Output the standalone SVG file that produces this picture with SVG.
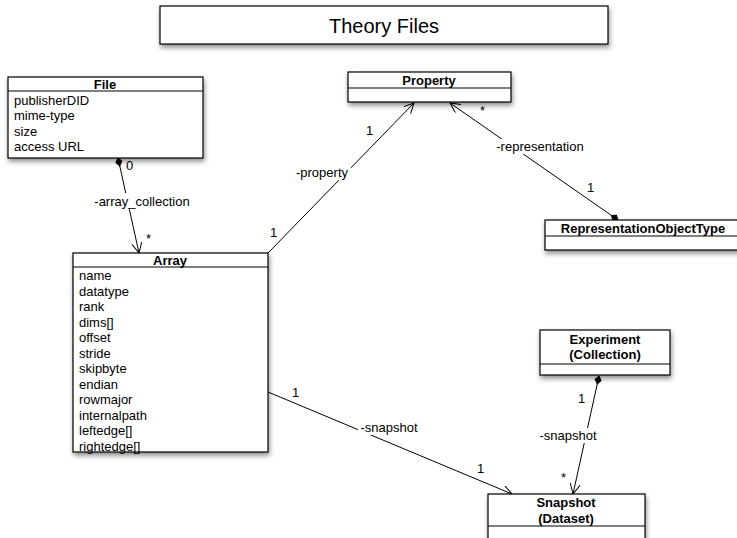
<svg xmlns="http://www.w3.org/2000/svg" width="737" height="538" viewBox="0 0 737 538">
<style>
text{font-family:"Liberation Sans",Arial,sans-serif;fill:#000}
.box{fill:#fff;stroke:#000;stroke-width:1.2}
.div{stroke:#000;stroke-width:1}
.hd{font-size:13px;font-weight:bold;text-anchor:middle}
.it{font-size:13px}
.lb{font-size:13px}
.con{stroke:#000;stroke-width:1;fill:none}
.title{font-size:20px;text-anchor:middle}
</style>
<defs>
<filter id="sh" x="-10%" y="-10%" width="120%" height="140%">
<feDropShadow dx="1" dy="3" stdDeviation="2.5" flood-color="#000" flood-opacity="0.45"/>
</filter>
<marker id="open" markerWidth="12" markerHeight="12" refX="10" refY="5" orient="auto" markerUnits="userSpaceOnUse">
<path d="M0,0 L10,5 L0,10" fill="none" stroke="#000" stroke-width="1"/>
</marker>
<marker id="dia" markerWidth="14" markerHeight="10" refX="1" refY="4" orient="auto" markerUnits="userSpaceOnUse">
<path d="M1,4 L5,1 L9,4 L5,7 Z" fill="#000" stroke="#000"/>
</marker>
</defs>
<g id="title">
<rect class="box" x="160" y="6" width="448" height="38" filter="url(#sh)"/>
<text class="title" x="384" y="33">Theory Files</text>
</g>
<g id="connectors">
<line class="con" x1="118" y1="158" x2="139" y2="253" marker-start="url(#dia)" marker-end="url(#open)"/>
<line class="con" x1="268" y1="253" x2="414" y2="103" marker-end="url(#open)"/>
<line class="con" x1="618" y1="220" x2="450" y2="103" marker-start="url(#dia)" marker-end="url(#open)"/>
<line class="con" x1="268" y1="392" x2="512" y2="494" marker-end="url(#open)"/>
<line class="con" x1="599" y1="376" x2="573" y2="494" marker-start="url(#dia)" marker-end="url(#open)"/>
<text class="lb" x="126" y="170">0</text>
<rect x="90" y="193" width="104" height="15" fill="#fff"/>
<text class="lb" x="142" y="206" text-anchor="middle">-array_collection</text>
<text class="lb" x="146" y="243">*</text>
<text class="lb" x="270" y="237">1</text>
<rect x="293" y="165" width="58" height="15" fill="#fff"/>
<text class="lb" x="322" y="177" text-anchor="middle">-property</text>
<text class="lb" x="366" y="135">1</text>
<text class="lb" x="480" y="115">*</text>
<rect x="494" y="139" width="92" height="15" fill="#fff"/>
<text class="lb" x="540" y="151" text-anchor="middle">-representation</text>
<text class="lb" x="587" y="192">1</text>
<text class="lb" x="292" y="397">1</text>
<rect x="358" y="420" width="62" height="15" fill="#fff"/>
<text class="lb" x="389" y="432" text-anchor="middle">-snapshot</text>
<text class="lb" x="477" y="473">1</text>
<text class="lb" x="578" y="403">1</text>
<rect x="537" y="428" width="62" height="15" fill="#fff"/>
<text class="lb" x="568" y="440" text-anchor="middle">-snapshot</text>
<text class="lb" x="561" y="482">*</text>
</g>
<g id="File">
<rect class="box" x="8" y="77" width="195" height="81" filter="url(#sh)"/>
<line class="div" x1="8" y1="91" x2="203" y2="91"/>
<text class="hd" x="105" y="89">File</text>
<text class="it" x="14" y="105">publisherDID</text>
<text class="it" x="14" y="120">mime-type</text>
<text class="it" x="14" y="136">size</text>
<text class="it" x="14" y="151">access URL</text>
</g>
<g id="Property">
<rect class="box" x="348" y="72" width="163" height="30" filter="url(#sh)"/>
<line class="div" x1="348" y1="88" x2="511" y2="88"/>
<text class="hd" x="429" y="85">Property</text>
</g>
<g id="RepresentationObjectType">
<rect class="box" x="545" y="220" width="200" height="30" filter="url(#sh)"/>
<line class="div" x1="545" y1="236" x2="745" y2="236"/>
<text class="hd" x="643" y="233">RepresentationObjectType</text>
</g>
<g id="Array">
<rect class="box" x="73" y="253" width="195" height="199" filter="url(#sh)"/>
<line class="div" x1="73" y1="267" x2="268" y2="267"/>
<text class="hd" x="170" y="265">Array</text>
<text class="it" x="79" y="280">name</text>
<text class="it" x="79" y="296">datatype</text>
<text class="it" x="79" y="311">rank</text>
<text class="it" x="79" y="327">dims[]</text>
<text class="it" x="79" y="342">offset</text>
<text class="it" x="79" y="358">stride</text>
<text class="it" x="79" y="373">skipbyte</text>
<text class="it" x="79" y="389">endian</text>
<text class="it" x="79" y="404">rowmajor</text>
<text class="it" x="79" y="420">internalpath</text>
<text class="it" x="79" y="435">leftedge[]</text>
<text class="it" x="79" y="451">rightedge[]</text>
</g>
<g id="Experiment">
<rect class="box" x="540" y="330" width="130" height="45" filter="url(#sh)"/>
<line class="div" x1="540" y1="364" x2="670" y2="364"/>
<text class="hd" x="605" y="344">Experiment</text>
<text class="hd" x="605" y="359">(Collection)</text>
</g>
<g id="Snapshot">
<rect class="box" x="488" y="494" width="157" height="60" filter="url(#sh)"/>
<line class="div" x1="488" y1="526" x2="645" y2="526"/>
<text class="hd" x="566" y="507">Snapshot</text>
<text class="hd" x="566" y="523">(Dataset)</text>
</g>
</svg>
